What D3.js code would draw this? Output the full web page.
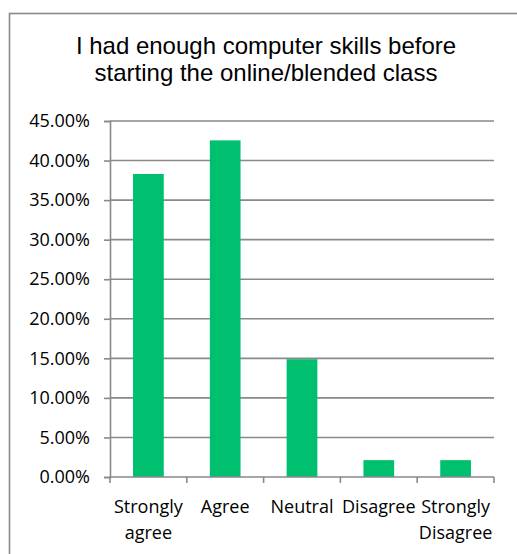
<!DOCTYPE html>
<html>
<head>
<meta charset="utf-8">
<script src="https://cdn.jsdelivr.net/npm/d3@7"></script>
<style>
  html, body { margin: 0; padding: 0; background: #ffffff; }
  svg { display: block; }
</style>
</head>
<body>
<svg id="chart" width="517" height="554"></svg>
<script>
const titleLines = ["I had enough computer skills before", "starting the online/blended class"];
const categories = ["Strongly agree", "Agree", "Neutral", "Disagree", "Strongly Disagree"];
const categoryLines = [["Strongly", "agree"], ["Agree"], ["Neutral"], ["Disagree"], ["Strongly", "Disagree"]];
const values = [38.30, 42.55, 14.89, 2.13, 2.13];
const yTicks = [0, 5, 10, 15, 20, 25, 30, 35, 40, 45];

const svg = d3.select("#chart");
const W = 517, H = 554;
const plot = { left: 110, right: 494, top: 121, bottom: 477 };
const gray = "#898989";
const green = "#00bf6f";
const labelFont = "'Open Sans', Lato, sans-serif";

// outer chart frame
svg.append("rect")
  .attr("x", 9.5).attr("y", 13.5)
  .attr("width", 530).attr("height", 560)
  .attr("fill", "#ffffff")
  .attr("stroke", gray).attr("stroke-width", 1.6);

// title
const title = svg.append("text")
  .attr("text-anchor", "middle")
  .attr("font-family", "'Liberation Sans', Arial, sans-serif")
  .attr("font-size", 24)
  .attr("fill", "#000");
titleLines.forEach((t, i) => {
  title.append("tspan").attr("x", 266).attr("y", 54 + i * 27).text(t);
});

const x = d3.scaleBand().domain(categories).range([plot.left, plot.right]).paddingInner(0.6).paddingOuter(0.3);
const y = d3.scaleLinear().domain([0, 45]).range([plot.bottom, plot.top]);

// gridlines
svg.append("g").selectAll("line")
  .data(yTicks.filter(d => d > 0))
  .join("line")
  .attr("x1", plot.left).attr("x2", plot.right)
  .attr("y1", d => y(d)).attr("y2", d => y(d))
  .attr("stroke", gray).attr("stroke-width", 1.6);

// y axis
const yAxis = svg.append("g")
  .attr("transform", `translate(${plot.left},0)`)
  .call(d3.axisLeft(y).tickValues(yTicks).tickSize(6).tickPadding(14)
    .tickFormat(d => d.toFixed(2) + "%"));
yAxis.select(".domain").attr("stroke", gray).attr("stroke-width", 1.6);
yAxis.selectAll(".tick line").attr("stroke", gray).attr("stroke-width", 1.6);
yAxis.selectAll(".tick text")
  .attr("font-family", labelFont).attr("font-size", 18).attr("fill", "#000");

// bars
svg.append("g").selectAll("rect")
  .data(values)
  .join("rect")
  .attr("x", (d, i) => x(categories[i]))
  .attr("width", x.bandwidth())
  .attr("y", d => y(d))
  .attr("height", d => y(0) - y(d))
  .attr("fill", green);

// x axis
const xb = d3.scaleLinear().domain([0, categories.length]).range([plot.left, plot.right]);
const xAxis = svg.append("g").attr("transform", `translate(0,${plot.bottom})`);
xAxis.append("line")
  .attr("x1", plot.left).attr("x2", plot.right)
  .attr("stroke", gray).attr("stroke-width", 1.6);
xAxis.selectAll("line.tk")
  .data(d3.range(categories.length + 1))
  .join("line").attr("class", "tk")
  .attr("x1", d => xb(d)).attr("x2", d => xb(d))
  .attr("y1", 0).attr("y2", 6)
  .attr("stroke", gray).attr("stroke-width", 1.6);

const xl = xAxis.selectAll("text.cat")
  .data(categoryLines)
  .join("text").attr("class", "cat")
  .attr("text-anchor", "middle")
  .attr("font-family", labelFont).attr("font-size", 18)
  .attr("fill", "#000");
xl.each(function(lines, i) {
  const cx = x(categories[i]) + x.bandwidth() / 2;
  d3.select(this).selectAll("tspan")
    .data(lines)
    .join("tspan")
    .attr("x", cx)
    .attr("y", (d, j) => 36 + j * 26)
    .text(d => d);
});
</script>
</body>
</html>
